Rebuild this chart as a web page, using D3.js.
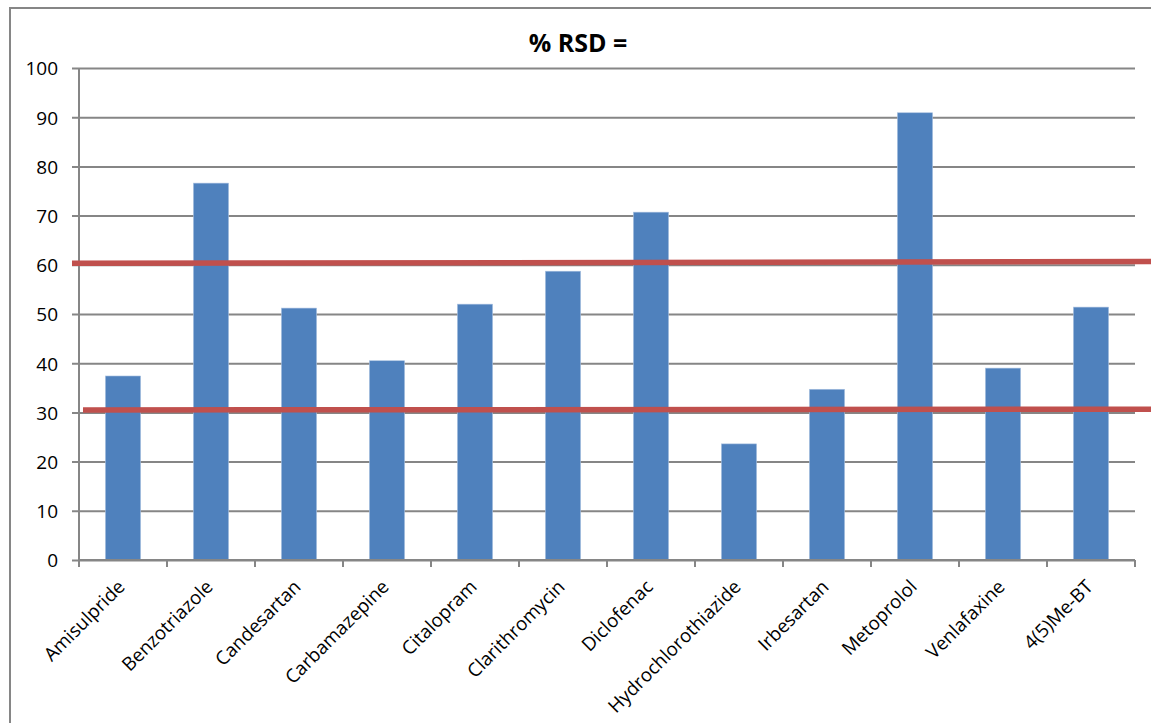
<!DOCTYPE html>
<html>
<head>
<meta charset="utf-8">
<script src="https://cdn.jsdelivr.net/npm/d3@7/dist/d3.min.js"></script>
<style>
  html, body { margin: 0; padding: 0; background: #fff; }
  svg { display: block; }
  text { font-family: "Open Sans", "Noto Sans", sans-serif; fill: #000; }
</style>
</head>
<body>
<svg id="chart" width="1151" height="723"></svg>
<script>
// Compounds along the x axis
const categories = [
  "Amisulpride", "Benzotriazole", "Candesartan", "Carbamazepine",
  "Citalopram", "Clarithromycin", "Diclofenac", "Hydrochlorothiazide",
  "Irbesartan", "Metoprolol", "Venlafaxine", "4(5)Me-BT"
];
// % RSD per compound
const rsdValues = [37.4, 76.6, 51.2, 40.5, 52.0, 58.7, 70.7, 23.6, 34.7, 90.9, 39.0, 51.4];
// y axis ticks
const yTicks = [0, 10, 20, 30, 40, 50, 60, 70, 80, 90, 100];
// Reference bands drawn as hand-placed red lines (value at left end, value at right end)
const refLineStart = [60.3, 30.5];
const refLineEnd = [60.65, 30.65];

const chartTitle = "% RSD =";

const svg = d3.select("#chart");
const W = 1151, H = 723;
const plot = { left: 79, right: 1135, top: 68, bottom: 560 };
const gridColor = "#868686";
const fontFamily = "'Open Sans', 'Noto Sans', sans-serif";

// Outer chart frame (continues past the right/bottom edge)
svg.append("path")
  .attr("d", `M10,${H + 5} L10,8 L${W + 5},8`)
  .attr("fill", "none")
  .attr("stroke", gridColor)
  .attr("stroke-width", 2);

const x = d3.scaleBand()
  .domain(categories)
  .range([plot.left, plot.right])
  .paddingInner(0.6)
  .paddingOuter(0.3);

const y = d3.scaleLinear()
  .domain([0, 100])
  .range([plot.bottom, plot.top]);

// Horizontal gridlines with left ticks
const yAxis = d3.axisLeft(y)
  .tickValues(yTicks)
  .tickSize(-(plot.right - plot.left))
  .tickSizeOuter(0)
  .tickPadding(22)
  .tickFormat(d3.format("d"));

const gy = svg.append("g")
  .attr("transform", `translate(${plot.left},0)`)
  .call(yAxis);
gy.select(".domain").remove();
gy.selectAll(".tick line")
  .attr("x1", -7)
  .attr("stroke", gridColor)
  .attr("stroke-width", 2);
gy.selectAll(".tick text")
  .attr("x", -21)
  .attr("dy", "0.36em")
  .style("font-size", "19px")
  .style("font-family", fontFamily)
  .attr("fill", "#000");

// Vertical axis line
svg.append("line")
  .attr("x1", plot.left).attr("x2", plot.left)
  .attr("y1", plot.top).attr("y2", plot.bottom)
  .attr("stroke", gridColor)
  .attr("stroke-width", 2);

// Bars
svg.append("g")
  .selectAll("rect")
  .data(categories)
  .join("rect")
  .attr("x", d => x(d))
  .attr("width", x.bandwidth())
  .attr("y", (d, i) => y(rsdValues[i]))
  .attr("height", (d, i) => y(0) - y(rsdValues[i]))
  .attr("fill", "#4F81BD")
  .attr("stroke", "#A9C1E0")
  .attr("stroke-width", 0.6);

// Category axis: ticks at band boundaries
const boundaries = d3.range(categories.length + 1).map(i => plot.left + i * x.step());
const gx = svg.append("g");
gx.append("line")
  .attr("x1", plot.left).attr("x2", plot.right)
  .attr("y1", plot.bottom).attr("y2", plot.bottom)
  .attr("stroke", gridColor)
  .attr("stroke-width", 2);
gx.selectAll("line.tk")
  .data(boundaries)
  .join("line")
  .attr("class", "tk")
  .attr("x1", d => d).attr("x2", d => d)
  .attr("y1", plot.bottom).attr("y2", plot.bottom + 7)
  .attr("stroke", gridColor)
  .attr("stroke-width", 2);

// Rotated category labels
gx.selectAll("text")
  .data(categories)
  .join("text")
  .attr("text-anchor", "end")
  .attr("transform", d => `translate(${x(d) + x.bandwidth() / 2 + 3},${plot.bottom + 28}) rotate(-45)`)
  .style("font-size", "18.8px")
  .text(d => d);

// Red reference lines
const refLeftX = [72, 83];
svg.append("g")
  .selectAll("line")
  .data(refLineStart)
  .join("line")
  .attr("x1", (d, i) => refLeftX[i])
  .attr("x2", W + 2)
  .attr("y1", d => y(d))
  .attr("y2", (d, i) => y(refLineEnd[i]))
  .attr("stroke", "#C0504D")
  .attr("stroke-width", 5.5);

// Title
svg.append("text")
  .attr("x", 578)
  .attr("y", 52)
  .attr("text-anchor", "middle")
  .style("font-size", "25px")
  .style("font-weight", "bold")
  .text(chartTitle);
</script>
</body>
</html>
